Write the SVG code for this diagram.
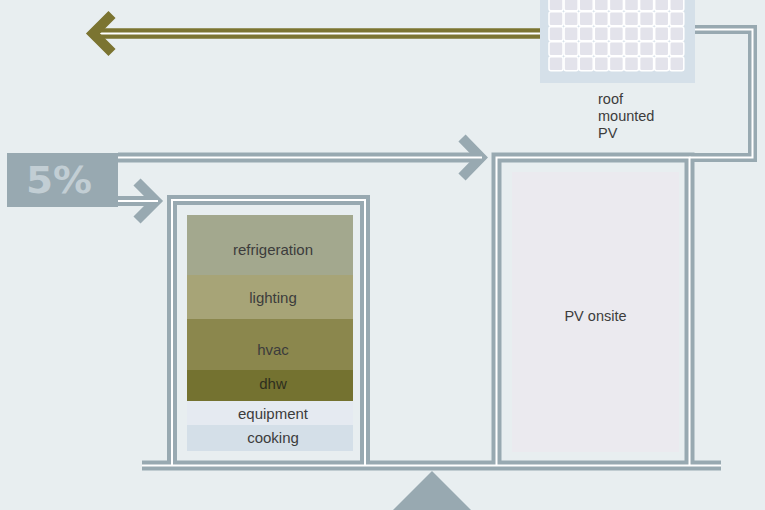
<svg xmlns="http://www.w3.org/2000/svg" width="765" height="510" viewBox="0 0 765 510">
<style>
.pg{fill:none;stroke:#98a9b1;stroke-width:10;stroke-linejoin:miter}
.pw{fill:none;stroke:#ffffff;stroke-width:2;stroke-linejoin:miter}
.og{fill:none;stroke:#7b7431;stroke-width:10.5}
.ch{fill:none;stroke:#98a9b1;stroke-width:10;stroke-linejoin:miter;stroke-miterlimit:10}
.lbl{font-family:"Liberation Sans",Arial,sans-serif;font-size:15px;fill:#3c3c3c;text-anchor:middle}
.sm{font-family:"Liberation Sans",Arial,sans-serif;font-size:14.5px;fill:#3c3c3c}
.cell{fill:#e3e3eb;stroke:#ffffff;stroke-width:1.5}
</style>
<rect x="0" y="0" width="765" height="510" fill="#e8eef0"/>

<g id="connectors">
  <!-- olive export arrow -->
  <path class="og" d="M93,33.5 H540"/>
  <path class="pw" d="M99,33.5 H540"/>
  <path d="M112,14.5 L93,33.5 L112,52.5" fill="none" stroke="#7b7431" stroke-width="10" stroke-miterlimit="10"/>
  <!-- gray pipes -->
  <path class="pg" d="M118,157.5 H481"/>
  <path class="pg" d="M118,201 H156"/>
  <path class="pg" d="M142,465.5 H721"/>
  <path class="pg" d="M172,465.5 V200 H365 V465.5"/>
  <path class="pg" d="M496.5,465.5 V157.5 H689.5 V465.5"/>
  <path class="pg" style="stroke-width:9" d="M695,29.5 H752.5 V157.5 H689.5"/>
  <path class="ch" d="M462,138 L481,157.5 L462,177"/>
  <path class="ch" d="M137,182 L156,201 L137,220"/>
  <path class="pw" d="M118,157.5 H482"/>
  <path class="pw" d="M118,201 H158"/>
  <path class="pw" d="M142,465.5 H721"/>
  <path class="pw" d="M172,465.5 V200 H365 V465.5"/>
  <path class="pw" d="M496.5,465.5 V157.5 H689.5 V465.5"/>
  <path class="pw" d="M695,29.5 H752.5 V157.5 H689.5"/>
  <polygon points="432,471 393,510 471,510" fill="#98a9b1"/>
</g>

<g id="grid-share">
  <rect x="7" y="153" width="111" height="54" fill="#98a9b1"/>
  <text x="26" y="193" font-family="'DejaVu Sans',sans-serif" font-weight="bold" font-size="38" fill="#c2ced4" textLength="66" lengthAdjust="spacingAndGlyphs">5%</text>
</g>

<g id="roof-pv">
  <rect x="540" y="-5" width="155" height="88" fill="#d5e0e9"/>
  <g id="pv-cells">
    <rect class="cell" x="549" y="-3.3" width="14" height="14" rx="2"/><rect class="cell" x="564.1" y="-3.3" width="14" height="14" rx="2"/><rect class="cell" x="579.2" y="-3.3" width="14" height="14" rx="2"/><rect class="cell" x="594.3" y="-3.3" width="14" height="14" rx="2"/><rect class="cell" x="609.4" y="-3.3" width="14" height="14" rx="2"/><rect class="cell" x="624.5" y="-3.3" width="14" height="14" rx="2"/><rect class="cell" x="639.6" y="-3.3" width="14" height="14" rx="2"/><rect class="cell" x="654.7" y="-3.3" width="14" height="14" rx="2"/><rect class="cell" x="669.8" y="-3.3" width="14" height="14" rx="2"/>
    <rect class="cell" x="549" y="11.7" width="14" height="14" rx="2"/><rect class="cell" x="564.1" y="11.7" width="14" height="14" rx="2"/><rect class="cell" x="579.2" y="11.7" width="14" height="14" rx="2"/><rect class="cell" x="594.3" y="11.7" width="14" height="14" rx="2"/><rect class="cell" x="609.4" y="11.7" width="14" height="14" rx="2"/><rect class="cell" x="624.5" y="11.7" width="14" height="14" rx="2"/><rect class="cell" x="639.6" y="11.7" width="14" height="14" rx="2"/><rect class="cell" x="654.7" y="11.7" width="14" height="14" rx="2"/><rect class="cell" x="669.8" y="11.7" width="14" height="14" rx="2"/>
    <rect class="cell" x="549" y="26.7" width="14" height="14" rx="2"/><rect class="cell" x="564.1" y="26.7" width="14" height="14" rx="2"/><rect class="cell" x="579.2" y="26.7" width="14" height="14" rx="2"/><rect class="cell" x="594.3" y="26.7" width="14" height="14" rx="2"/><rect class="cell" x="609.4" y="26.7" width="14" height="14" rx="2"/><rect class="cell" x="624.5" y="26.7" width="14" height="14" rx="2"/><rect class="cell" x="639.6" y="26.7" width="14" height="14" rx="2"/><rect class="cell" x="654.7" y="26.7" width="14" height="14" rx="2"/><rect class="cell" x="669.8" y="26.7" width="14" height="14" rx="2"/>
    <rect class="cell" x="549" y="41.7" width="14" height="14" rx="2"/><rect class="cell" x="564.1" y="41.7" width="14" height="14" rx="2"/><rect class="cell" x="579.2" y="41.7" width="14" height="14" rx="2"/><rect class="cell" x="594.3" y="41.7" width="14" height="14" rx="2"/><rect class="cell" x="609.4" y="41.7" width="14" height="14" rx="2"/><rect class="cell" x="624.5" y="41.7" width="14" height="14" rx="2"/><rect class="cell" x="639.6" y="41.7" width="14" height="14" rx="2"/><rect class="cell" x="654.7" y="41.7" width="14" height="14" rx="2"/><rect class="cell" x="669.8" y="41.7" width="14" height="14" rx="2"/>
    <rect class="cell" x="549" y="56.7" width="14" height="14" rx="2"/><rect class="cell" x="564.1" y="56.7" width="14" height="14" rx="2"/><rect class="cell" x="579.2" y="56.7" width="14" height="14" rx="2"/><rect class="cell" x="594.3" y="56.7" width="14" height="14" rx="2"/><rect class="cell" x="609.4" y="56.7" width="14" height="14" rx="2"/><rect class="cell" x="624.5" y="56.7" width="14" height="14" rx="2"/><rect class="cell" x="639.6" y="56.7" width="14" height="14" rx="2"/><rect class="cell" x="654.7" y="56.7" width="14" height="14" rx="2"/><rect class="cell" x="669.8" y="56.7" width="14" height="14" rx="2"/>
  </g>
  <text class="sm" x="598"><tspan x="598" y="104">roof</tspan><tspan x="598" y="121">mounted</tspan><tspan x="598" y="137.5">PV</tspan></text>
</g>

<g id="consumption">
  <rect x="187" y="215" width="166" height="60" fill="#a3a88e"/>
  <rect x="187" y="275" width="166" height="44" fill="#a7a477"/>
  <rect x="187" y="319" width="166" height="51" fill="#8b874d"/>
  <rect x="187" y="370" width="166" height="31" fill="#747230"/>
  <rect x="187" y="401" width="166" height="24" fill="#e5eaf1"/>
  <rect x="187" y="425" width="166" height="26" fill="#d4dfe8"/>
  <text class="lbl" x="273" y="254.5">refrigeration</text>
  <text class="lbl" x="273" y="303">lighting</text>
  <text class="lbl" x="273" y="355">hvac</text>
  <text class="lbl" x="273" y="389" style="fill:#2e2e1e">dhw</text>
  <text class="lbl" x="273" y="418.5">equipment</text>
  <text class="lbl" x="273" y="443">cooking</text>
</g>

<g id="pv-onsite">
  <rect x="512" y="172" width="167" height="280" fill="#ebeaef"/>
  <text class="sm" x="595.5" y="320.5" text-anchor="middle">PV onsite</text>
</g>
</svg>
